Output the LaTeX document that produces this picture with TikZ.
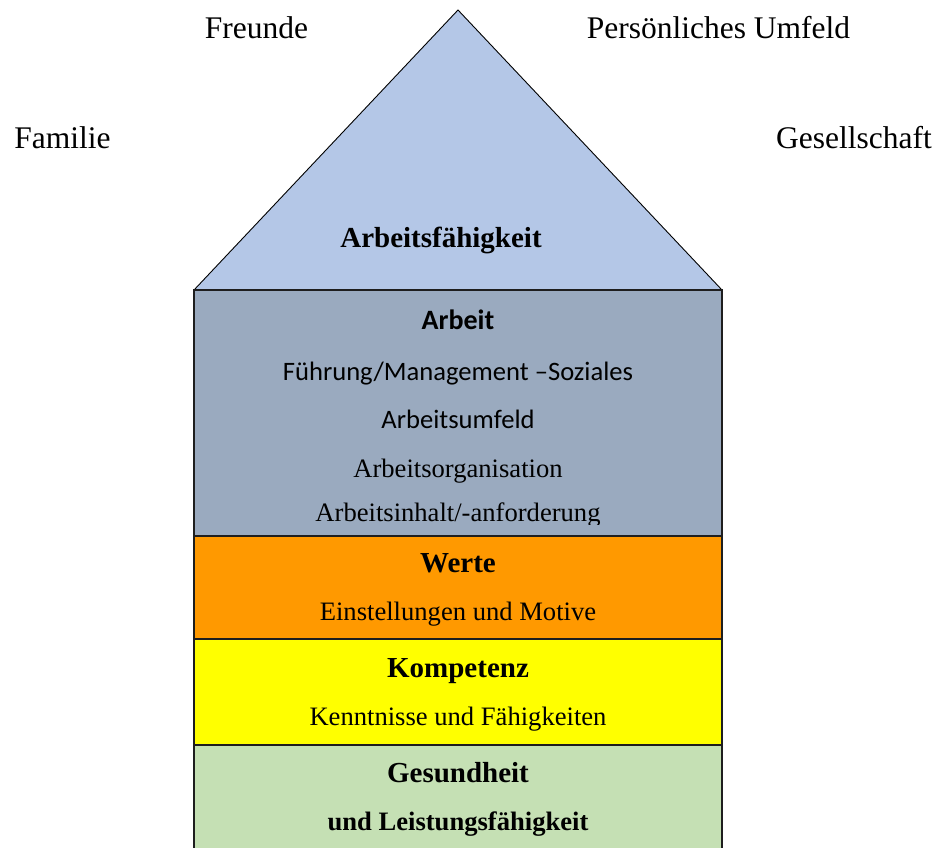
\documentclass[tikz,border=0pt]{standalone}
\usepackage{fontspec}
\setmainfont{Liberation Serif}
\newfontfamily\carlito{Carlito}
\definecolor{roofblue}{HTML}{B4C7E7}
\definecolor{workgray}{HTML}{9AAABF}
\definecolor{valorange}{HTML}{FF9900}
\definecolor{compyellow}{HTML}{FFFF00}
\definecolor{healthgreen}{HTML}{C5E0B4}
\definecolor{edgegray}{HTML}{1E1E1E}
\begin{document}
\begin{tikzpicture}[x=1pt,y=-1pt,
  lbl/.style={anchor=base,inner sep=0pt,font={\fontsize{31.5}{36}\selectfont}},
  head/.style={anchor=base,inner sep=0pt,font={\fontsize{29}{34}\selectfont\bfseries}},
  sub/.style={anchor=base,inner sep=0pt,font={\fontsize{26.6}{30}\selectfont}},
  calhead/.style={anchor=base,inner sep=0pt,font={\fontsize{28}{32}\selectfont\carlito\bfseries}},
  calsub/.style={anchor=base,inner sep=0pt,font={\fontsize{26.6}{30}\selectfont\carlito}},
  layer/.style={draw=edgegray,line width=1.6pt}]
\useasboundingbox (0,0) rectangle (938,847);
% roof
\fill[roofblue] (458,10) -- (194,290) -- (722,290) -- cycle;
\draw[line width=0.9pt,line join=miter] (194,290) -- (458,10) -- (722,290);
% layers
\fill[workgray] (194,290) rectangle (722,536);
\fill[valorange] (194,536) rectangle (722,639);
\fill[compyellow] (194,639) rectangle (722,745);
\fill[healthgreen] (194,745) rectangle (722,860);
\draw[layer] (194,860) -- (194,290) -- (722,290) -- (722,860);
\draw[layer] (194,536) -- (722,536);
\draw[layer] (194,639) -- (722,639);
\draw[layer] (194,745) -- (722,745);
% surrounding labels
\node[lbl] (freunde) at (256.5,38) {Freunde};
\node[lbl] (umfeld) at (718.5,38) {Persönliches Umfeld};
\node[lbl] (familie) at (62.5,148) {Familie};
\node[lbl] (gesellschaft) at (854,148) {Gesellschaft};
% roof text
\node[head] (af) at (441,247) {Arbeitsfähigkeit};
% Arbeit
\node[calhead] (arbeit) at (458,329) {Arbeit};
\node[calsub] (fuehrung) at (458,380) {Führung/Management –Soziales};
\node[calsub] (umfeldA) at (458,428) {Arbeitsumfeld};
\node[sub] (orga) at (458,477) {Arbeitsorganisation};
\begin{scope}
\clip (194,290) rectangle (722,524);
\node[sub] (inhalt) at (458,521) {Arbeitsinhalt/-anforderung};
\end{scope}
% Werte
\node[head] (werte) at (458,572) {Werte};
\node[sub] (einst) at (458,620) {Einstellungen und Motive};
% Kompetenz
\node[head] (komp) at (458,677) {Kompetenz};
\node[sub] (kennt) at (458,725) {Kenntnisse und Fähigkeiten};
% Gesundheit
\node[head] (ges) at (458,782) {Gesundheit};
\node[head,font={\fontsize{26.6}{30}\selectfont\bfseries}] (leist) at (458,830) {und Leistungsfähigkeit};
\end{tikzpicture}
\end{document}
